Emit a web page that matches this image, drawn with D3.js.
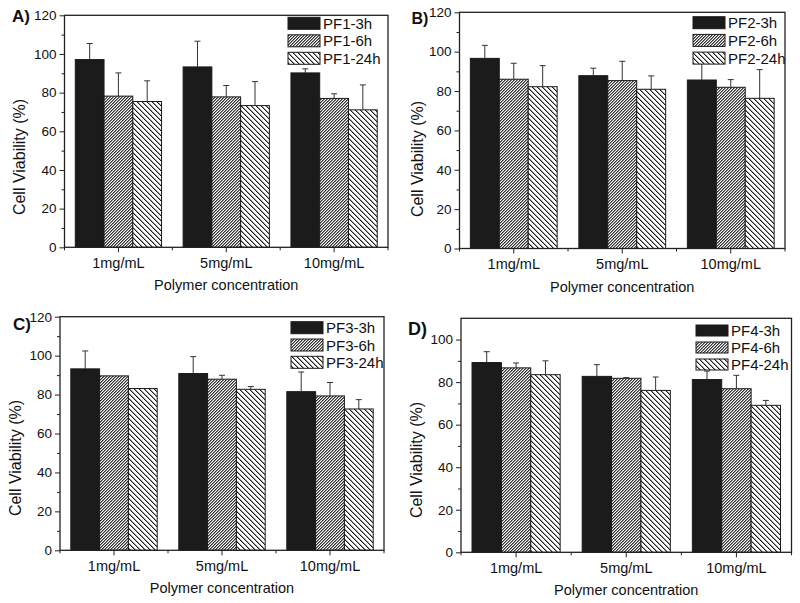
<!DOCTYPE html>
<html><head><meta charset="utf-8">
<script src="https://cdn.jsdelivr.net/npm/d3@7"></script>
<style>
body{margin:0;background:#fff}
svg{display:block}
text{font-family:"Liberation Sans",Arial,sans-serif;fill:#111}
</style>
</head><body>
<svg id="chart" width="800" height="603"></svg>
<script>
// ---------------- DATA ----------------
const categories = ["1mg/mL", "5mg/mL", "10mg/mL"];
const timePoints = ["3h", "6h", "24h"];
const polymers = ["PF1", "PF2", "PF3", "PF4"];
const panelLetters = ["A)", "B)", "C)", "D)"];

// PF1 (panel A)
const PF1_3h = [97.1, 93.3, 90.2];
const PF1_3h_err = [8.3, 13.3, 2.1];
const PF1_6h = [78.2, 77.8, 77.0];
const PF1_6h_err = [12.0, 5.9, 2.4];
const PF1_24h = [75.4, 73.3, 71.1];
const PF1_24h_err = [10.7, 12.4, 12.9];

// PF2 (panel B)
const PF2_3h = [96.6, 87.8, 85.6];
const PF2_3h_err = [6.6, 3.8, 9.2];
const PF2_6h = [86.0, 85.3, 81.9];
const PF2_6h_err = [8.1, 9.8, 3.9];
const PF2_24h = [82.2, 80.9, 76.3];
const PF2_24h_err = [10.7, 6.8, 14.6];

// PF3 (panel C)
const PF3_3h = [93.2, 90.8, 81.5];
const PF3_3h_err = [9.2, 8.7, 10.1];
const PF3_6h = [89.6, 87.9, 79.3];
const PF3_6h_err = [0, 2.0, 6.9];
const PF3_24h = [83.1, 82.7, 72.6];
const PF3_24h_err = [0, 1.4, 4.8];

// PF4 (panel D)
const PF4_3h = [89.2, 82.7, 81.2];
const PF4_3h_err = [5.1, 5.5, 4.0];
const PF4_6h = [86.7, 81.8, 76.9];
const PF4_6h_err = [2.3, 0.3, 6.3];
const PF4_24h = [83.5, 76.1, 69.1];
const PF4_24h_err = [6.5, 6.3, 2.3];

const yMax = [120, 120, 120, 110];
const yTicks120 = [0, 20, 40, 60, 80, 100, 120];
const yTicks100 = [0, 20, 40, 60, 80, 100];
const xTitle = "Polymer concentration";
const yTitle = "Cell Viability (%)";

const panelMeans = [
  [PF1_3h, PF1_6h, PF1_24h],
  [PF2_3h, PF2_6h, PF2_24h],
  [PF3_3h, PF3_6h, PF3_24h],
  [PF4_3h, PF4_6h, PF4_24h]
];
const panelErrs = [
  [PF1_3h_err, PF1_6h_err, PF1_24h_err],
  [PF2_3h_err, PF2_6h_err, PF2_24h_err],
  [PF3_3h_err, PF3_6h_err, PF3_24h_err],
  [PF4_3h_err, PF4_6h_err, PF4_24h_err]
];
const panelTicks = [yTicks120, yTicks120, yTicks120, yTicks100];

// ---------------- LAYOUT ----------------
const layout = [
  {left: 64.5, top: 15.3, right: 388, bottom: 247.3, lx: 288, ly: 17.3, ldy: 17.5, sh: 12, lbx: 12, lby: 21.7, lbs: 17, ytx: 19, yty: 157},
  {left: 459.5, top: 12.3, right: 785, bottom: 248.5, lx: 693, ly: 16.7, ldy: 17.7, sh: 12, lbx: 411.5, lby: 23.8, lbs: 16, ytx: 417.5, yty: 159},
  {left: 60, top: 316.7, right: 384, bottom: 550.3, lx: 291, ly: 321.7, ldy: 17.3, sh: 12, lbx: 13, lby: 330, lbs: 17, ytx: 15, yty: 458},
  {left: 461, top: 318.3, right: 791.5, bottom: 552.3, lx: 696, ly: 325, ldy: 17, sh: 11, lbx: 408, lby: 335, lbs: 18, ytx: 416.7, yty: 460}
];

const svg = d3.select("#chart");
svg.append("rect").attr("width", 800).attr("height", 603).attr("fill", "#fff");
const defs = svg.append("defs");

// pixel-aligned hatch: dir "/" or "\", period p (px), 1px diagonal lines (+ optional soft edge)
function hatch(id, p, dir, color, thick) {
  const pat = defs.append("pattern").attr("id", id)
    .attr("patternUnits", "userSpaceOnUse").attr("x", 0).attr("y", 0)
    .attr("width", p).attr("height", p);
  pat.append("rect").attr("width", p).attr("height", p).attr("fill", "#fff");
  const cells = [];
  for (let k = 0; k < p; k++) {
    const cx = dir === "/" ? (p - 1 - k) : k;
    cells.push([cx, k, color]);
    if (thick) cells.push([(cx + 1) % p, k, thick]);
  }
  pat.selectAll("rect.px").data(cells).enter().append("rect").attr("class", "px")
    .attr("x", d => d[0]).attr("y", d => d[1]).attr("width", 1).attr("height", 1)
    .attr("fill", d => d[2]).attr("shape-rendering", "crispEdges");
}
hatch("h6", 3, "/", "#333", "#8c8c8c");
hatch("h24", 5, "\\", "#1e1e1e", "#9a9a9a");
const fills = ["#1b1b1b", "url(#h6)", "url(#h24)"];

layout.forEach((L, i) => {
  const g = svg.append("g");
  const x0 = d3.scaleBand().domain(categories).range([L.left, L.right])
    .paddingInner(0.2).paddingOuter(0.1);
  const x1 = d3.scaleBand().domain(timePoints).range([0, x0.bandwidth()]);
  const y = d3.scaleLinear().domain([0, yMax[i]]).range([L.bottom, L.top]);

  // bars
  timePoints.forEach((t, j) => {
    const vals = panelMeans[i][j];
    g.selectAll(null).data(categories).enter().append("rect")
      .attr("x", c => x0(c) + x1(t))
      .attr("y", (c, k) => y(vals[k]))
      .attr("width", x1.bandwidth())
      .attr("height", (c, k) => y(0) - y(vals[k]))
      .attr("fill", fills[j])
      .attr("stroke", "#1a1a1a").attr("stroke-width", 1);
  });

  // error bars (upper only)
  timePoints.forEach((t, j) => {
    const vals = panelMeans[i][j], errs = panelErrs[i][j];
    categories.forEach((c, k) => {
      if (errs[k] <= 0) return;
      const cx = x0(c) + x1(t) + x1.bandwidth() / 2;
      g.append("line").attr("x1", cx).attr("x2", cx)
        .attr("y1", y(vals[k])).attr("y2", y(vals[k] + errs[k]))
        .attr("stroke", "#333").attr("stroke-width", 1);
      g.append("line").attr("x1", cx - 3).attr("x2", cx + 3)
        .attr("y1", y(vals[k] + errs[k])).attr("y2", y(vals[k] + errs[k]))
        .attr("stroke", "#333").attr("stroke-width", 1);
    });
  });

  // y axis
  const ya = g.append("g").attr("transform", `translate(${L.left},0)`)
    .call(d3.axisLeft(y).tickValues(panelTicks[i]).tickSize(5).tickPadding(3).tickFormat(d3.format("d")));
  ya.select(".domain").remove();
  ya.selectAll("text").style("font-size", "13.5px").attr("fill", "#111");
  ya.selectAll("line").attr("stroke", "#222");
  const yam = g.append("g").attr("transform", `translate(${L.left},0)`)
    .call(d3.axisLeft(y).tickValues(d3.range(10, yMax[i], 20)).tickSize(3).tickFormat(""));
  yam.select(".domain").remove();
  yam.selectAll("line").attr("stroke", "#222");

  // x axis
  const xa = g.append("g").attr("transform", `translate(0,${L.bottom})`)
    .call(d3.axisBottom(x0).tickSize(5).tickPadding(5));
  xa.select(".domain").remove();
  xa.selectAll("text").style("font-size", "14.5px").attr("fill", "#111");
  xa.selectAll("line").attr("stroke", "#222");
  const step = x0.step();
  const bounds = categories.map(c => x0(c) - (step - x0.bandwidth()) / 2);
  bounds.push(bounds[bounds.length - 1] + step);
  g.selectAll(null).data(bounds).enter().append("line")
    .attr("x1", d => d).attr("x2", d => d)
    .attr("y1", L.bottom).attr("y2", L.bottom + 3)
    .attr("stroke", "#222");

  // frame
  g.append("rect").attr("x", L.left).attr("y", L.top)
    .attr("width", L.right - L.left).attr("height", L.bottom - L.top)
    .attr("fill", "none").attr("stroke", "#222").attr("stroke-width", 1.3);

  // legend
  timePoints.forEach((t, j) => {
    const yy = L.ly + j * L.ldy;
    g.append("rect").attr("x", L.lx).attr("y", yy).attr("width", 32).attr("height", L.sh)
      .attr("fill", fills[j]).attr("stroke", "#1a1a1a").attr("stroke-width", 1);
    g.append("text").attr("x", L.lx + 35).attr("y", yy + L.sh - 0.5)
      .style("font-size", "15px").text(polymers[i] + "-" + t);
  });

  // titles
  g.append("text").attr("x", (L.left + L.right) / 2).attr("y", L.bottom + 43)
    .attr("text-anchor", "middle").style("font-size", "14.5px").text(xTitle);
  g.append("text").attr("transform", `translate(${L.ytx},${L.yty}) rotate(-90)`)
    .attr("dy", "0.35em").attr("text-anchor", "middle").style("font-size", "16px").text(yTitle);
  g.append("text").attr("x", L.lbx).attr("y", L.lby)
    .style("font-size", L.lbs + "px").style("font-weight", "bold").text(panelLetters[i]);
});
</script>
</body></html>
